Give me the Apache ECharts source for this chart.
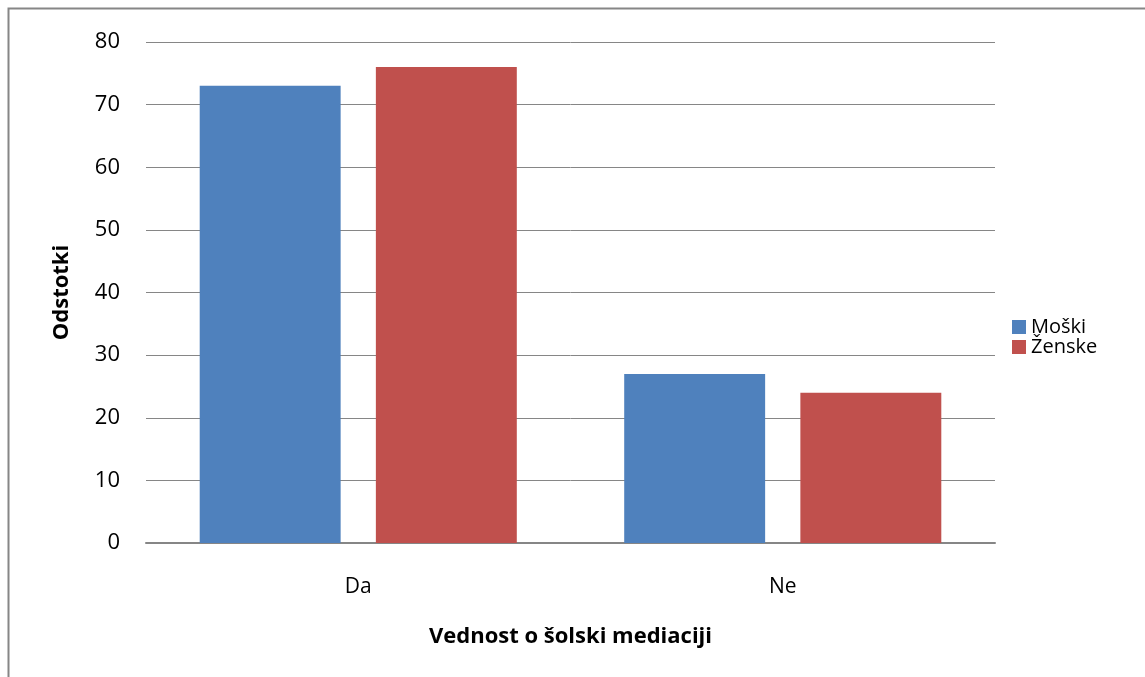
<!DOCTYPE html>
<html>
<head>
<meta charset="utf-8">
<style>
  html, body { margin: 0; padding: 0; background: #fff; }
  #chart { width: 1145px; height: 677px; }
</style>
<script src="https://cdn.jsdelivr.net/npm/echarts@6/dist/echarts.min.js"></script>
</head>
<body>
<div id="chart"></div>
<script>
// podatki
var categories = ['Da', 'Ne']
var moski = [73, 27]
var zenske = [76, 24]
var yTicks = [0, 10, 20, 30, 40, 50, 60, 70, 80]

var chart = echarts.init(document.getElementById('chart'))
var font = 'Open Sans'
var option = {
  animation: false,
  textStyle: { fontFamily: font },
  graphic: [{
    type: 'rect',
    shape: { x: 8.5, y: 8.5, width: 1300, height: 800 },
    style: { fill: 'none', stroke: '#868686', lineWidth: 2 },
    silent: true
  }],
  grid: { left: 146, right: 150, top: 42, bottom: 134 },
  legend: {
    orient: 'vertical',
    left: 1007,
    top: 312,
    itemWidth: 14,
    itemHeight: 14,
    itemGap: 0,
    icon: 'rect',
    textStyle: { fontSize: 20, lineHeight: 20, color: '#000', fontFamily: font },
    data: ['Moški', 'Ženske']
  },
  xAxis: {
    type: 'category',
    data: categories,
    name: 'Vednost o šolski mediaciji',
    nameLocation: 'middle',
    nameGap: 83,
    nameTextStyle: { fontSize: 22, fontWeight: 'bold', color: '#000', fontFamily: font },
    axisLine: { lineStyle: { color: '#868686', width: 2 } },
    axisTick: { show: false },
    axisLabel: { fontSize: 21, color: '#000', margin: 34, fontFamily: font }
  },
  yAxis: {
    type: 'value',
    min: yTicks[0],
    max: yTicks[yTicks.length - 1],
    interval: 10,
    name: 'Odstotki',
    nameLocation: 'middle',
    nameGap: 73,
    nameRotate: 90,
    nameTextStyle: { fontSize: 22, fontWeight: 'bold', color: '#000', fontFamily: font },
    axisLine: { show: false },
    axisTick: { show: false },
    axisLabel: { fontSize: 22, color: '#000', margin: 26, fontFamily: font },
    splitLine: { lineStyle: { color: '#868686', width: 1 } }
  },
  series: [{
    name: 'Moški',
    type: 'bar',
    data: moski,
    barGap: '25%',
    barCategoryGap: '25.3%',
    itemStyle: { color: '#4f81bd' }
  }, {
    name: 'Ženske',
    type: 'bar',
    data: zenske,
    itemStyle: { color: '#c0504d' }
  }]
}
chart.setOption(option)
</script>
</body>
</html>
